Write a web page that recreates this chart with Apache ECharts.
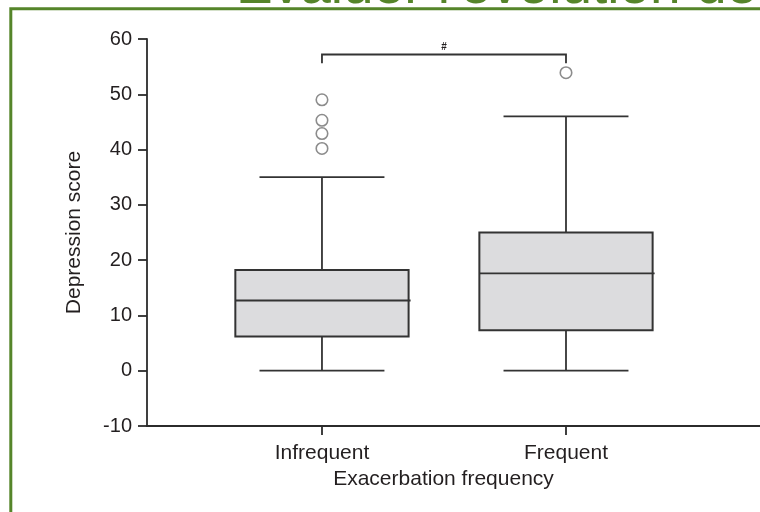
<!DOCTYPE html>
<html>
<head>
<meta charset="utf-8">
<script src="https://cdn.jsdelivr.net/npm/echarts@6/dist/echarts.min.js"></script>
<style>
  html, body { margin: 0; padding: 0; background: #fff; }
  #chart { width: 760px; height: 512px; }
</style>
</head>
<body>
<div id="chart"></div>
<script>
// Groups on the x axis
const categories = ['Infrequent', 'Frequent'];
// Box statistics: [lower whisker, Q1, median, Q3, upper whisker]
const infrequentBox = [0, 6.2, 12.7, 18.2, 35.0];
const frequentBox = [0, 7.3, 17.6, 25.0, 46.0];
// Points beyond the whiskers
const infrequentOutliers = [49.0, 45.3, 42.9, 40.2];
const frequentOutliers = [53.9];
// Value axis ticks
const yTicks = [-10, 0, 10, 20, 30, 40, 50, 60];
// Significance bracket between the two groups
const bracketLevel = 57.2;
const bracketDrop = 55.6;
const bracketMark = '#';
// Texts
const yAxisTitle = 'Depression score';
const xAxisTitle = 'Exacerbation frequency';
const headerText = "Evaluer l'évolution de";

const FONT = "'Liberation Sans', Arial, Helvetica, sans-serif";
const INK = '#231f20';
const GREEN = '#55852a';

const boxes = [infrequentBox, frequentBox];
const boxData = boxes.map((b, i) => [i + 1].concat(b));
const outlierData = []
  .concat(infrequentOutliers.map(v => [1, v]))
  .concat(frequentOutliers.map(v => [2, v]));

function renderBox(params, api) {
  const x = api.value(0);
  const lo = api.coord([x, api.value(1)]);
  const q1 = api.coord([x, api.value(2)]);
  const med = api.coord([x, api.value(3)]);
  const q3 = api.coord([x, api.value(4)]);
  const hi = api.coord([x, api.value(5)]);
  const unit = api.size([1, 0])[0];
  const bw = unit * 0.71;
  const cw = unit * 0.512;
  const cx = lo[0];
  const seg = (x1, y1, x2, y2, w) => ({
    type: 'line',
    shape: { x1, y1, x2, y2 },
    style: { stroke: '#333', lineWidth: w }
  });
  return {
    type: 'group',
    children: [
      seg(cx, lo[1], cx, q1[1], 1.8),
      seg(cx, q3[1], cx, hi[1], 1.8),
      seg(cx - cw / 2, lo[1], cx + cw / 2, lo[1], 1.8),
      seg(cx - cw / 2, hi[1], cx + cw / 2, hi[1], 1.8),
      {
        type: 'rect',
        shape: { x: cx - bw / 2, y: q3[1], width: bw, height: q1[1] - q3[1] },
        style: { fill: '#dcdcde', stroke: '#333', lineWidth: 2 }
      },
      seg(cx - bw / 2, med[1], cx + bw / 2 + 2, med[1], 1.8)
    ]
  };
}

function renderBracket(params, api) {
  const a = api.coord([api.value(0), api.value(2)]);
  const b = api.coord([api.value(1), api.value(2)]);
  const drop = api.coord([api.value(0), api.value(3)])[1];
  return {
    type: 'group',
    children: [
      {
        type: 'polyline',
        shape: { points: [[a[0], drop], [a[0], a[1]], [b[0], b[1]], [b[0], drop]] },
        style: { stroke: '#333', lineWidth: 1.8, fill: null }
      },
      {
        type: 'text',
        x: (a[0] + b[0]) / 2,
        y: a[1] - 7,
        style: {
          text: bracketMark, fontSize: 10, fontFamily: FONT, fill: INK,
          align: 'center', verticalAlign: 'middle', fontWeight: 'bold'
        }
      }
    ]
  };
}

const chart = echarts.init(document.getElementById('chart'), null, { renderer: 'canvas' });
chart.setOption({
  animation: false,
  backgroundColor: '#fff',
  grid: { left: 147, right: 0, top: 39, bottom: 86, containLabel: false },
  xAxis: {
    type: 'value',
    min: 0.283,
    max: 2.795,
    name: xAxisTitle,
    nameLocation: 'middle',
    nameGap: 41,
    nameTextStyle: { fontSize: 21, fontFamily: FONT, color: INK, padding: [0, 20, 0, 0] },
    axisLine: { show: true, onZero: false, lineStyle: { color: '#2b2b2b', width: 1.8 } },
    axisTick: { show: true, customValues: [1, 2], length: 9, lineStyle: { color: '#2b2b2b', width: 1.8 } },
    axisLabel: {
      customValues: [1, 2],
      formatter: v => categories[Math.round(v) - 1] || '',
      fontSize: 21, fontFamily: FONT, color: INK, margin: 17
    },
    splitLine: { show: false }
  },
  yAxis: {
    type: 'value',
    min: yTicks[0],
    max: yTicks[yTicks.length - 1],
    interval: 10,
    name: yAxisTitle,
    nameLocation: 'middle',
    nameGap: 62,
    nameTextStyle: { fontSize: 21, fontFamily: FONT, color: INK },
    axisLine: { show: true, onZero: false, lineStyle: { color: '#2b2b2b', width: 1.8 } },
    axisTick: { show: true, length: 9, lineStyle: { color: '#2b2b2b', width: 1.8 } },
    axisLabel: { fontSize: 20, fontFamily: FONT, color: INK, margin: 15 },
    splitLine: { show: false }
  },
  graphic: [
    {
      type: 'text',
      x: 236,
      y: -12,
      z: 10,
      style: {
        text: headerText, fontSize: 55, fontFamily: FONT, fill: GREEN,
        align: 'left', verticalAlign: 'middle'
      }
    },
    {
      type: 'rect',
      z: 11,
      shape: { x: 10.8, y: 8.7, width: 900, height: 700 },
      style: { fill: null, stroke: GREEN, lineWidth: 3 }
    }
  ],
  series: [
    {
      type: 'custom',
      renderItem: renderBox,
      data: boxData,
      encode: { x: 0, y: [1, 2, 3, 4, 5] },
      z: 2
    },
    {
      type: 'scatter',
      data: outlierData,
      symbol: 'circle',
      symbolSize: 11.5,
      itemStyle: { color: '#fff', borderColor: '#8c8c8c', borderWidth: 1.6, opacity: 1 },
      z: 3
    },
    {
      type: 'custom',
      renderItem: renderBracket,
      data: [[1, 2, bracketLevel, bracketDrop]],
      encode: { x: [0, 1], y: [2, 3] },
      z: 3
    }
  ]
});
</script>
</body>
</html>
